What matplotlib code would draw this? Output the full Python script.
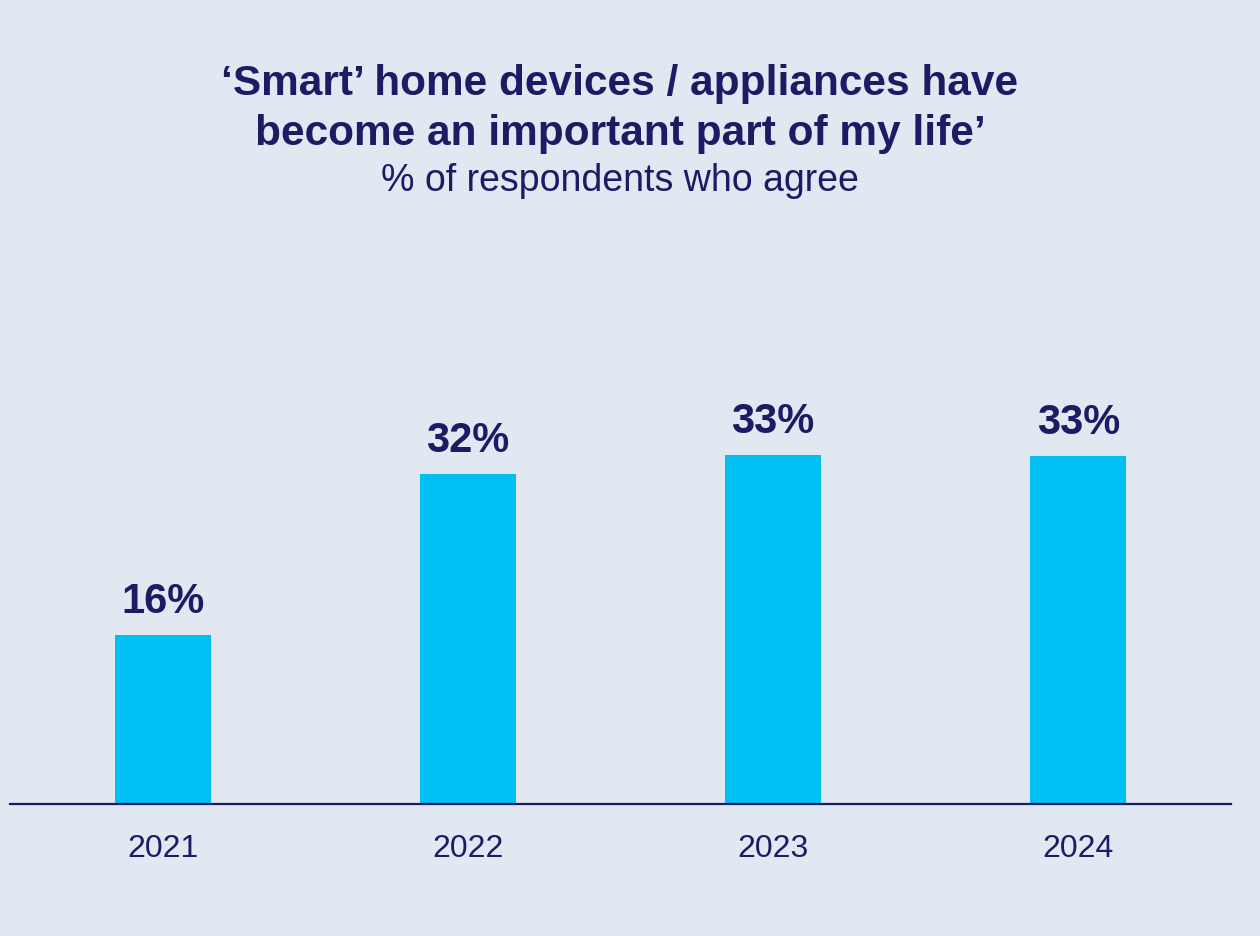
import matplotlib
matplotlib.use("Agg")
import matplotlib.pyplot as plt

# survey results by year
years = ["2021", "2022", "2023", "2024"]
agree_pct = [16.2, 31.6, 33.4, 33.3]

title_text = "\u2018Smart\u2019 home devices / appliances have\nbecome an important part of my life\u2019"
subtitle_text = "% of respondents who agree"

bg = "#E1E8F2"
navy = "#1E1A64"
cyan = "#00BFF3"

plt.rcParams["font.family"] = ["Liberation Sans", "DejaVu Sans"]

fig = plt.figure(figsize=(12.6, 9.37), dpi=100, facecolor=bg)
# axes placed so the baseline sits near the bottom and bars scale ~10.45 px per %
ax = fig.add_axes([10 / 1260, 132 / 937, 1221 / 1260, 416 / 937], facecolor=bg)

x = range(len(years))
bars = ax.bar(x, agree_pct, width=0.314, color=cyan)

for rect, val in zip(bars, agree_pct):
    ax.annotate(f"{val:.0f}%", (rect.get_x() + rect.get_width() / 2, rect.get_height()),
                xytext=(0, 10), textcoords="offset points", ha="center", va="bottom",
                fontsize=30, fontweight="bold", color=navy)

ax.set_xlim(-0.5, 3.5)
ax.set_ylim(0, 39.8)
ax.set_xticks(list(x))
ax.set_xticklabels(years, fontsize=23, color=navy)
ax.tick_params(axis="x", length=0, pad=21)
ax.set_yticks([])
for side in ["top", "right", "left"]:
    ax.spines[side].set_visible(False)
ax.spines["bottom"].set_color(navy)
ax.spines["bottom"].set_linewidth(1.6)

fig.text(620 / 1260, 1 - 109 / 937, title_text, ha="center", va="center",
         fontsize=30.5, fontweight="bold", color=navy, linespacing=1.3)
fig.text(620 / 1260, 1 - 181 / 937, subtitle_text, ha="center", va="center",
         fontsize=27, color=navy)

fig.savefig("out.png", dpi=100, facecolor=bg)
